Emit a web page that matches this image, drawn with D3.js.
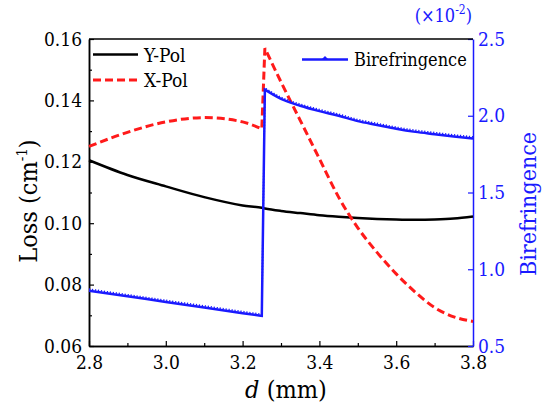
<!DOCTYPE html>
<html>
<head>
<meta charset="utf-8">
<script src="https://cdn.jsdelivr.net/npm/d3@7"></script>
<style>
  body { margin: 0; background: #fff; }
</style>
</head>
<body>
<svg id="chart"></svg>
<script>
// ---- data ----
// before the jump
const dPre = [2.8, 2.9, 3.0, 3.1, 3.2, 3.25];
const yPolPre = [0.1205, 0.1157, 0.1120, 0.1085, 0.1058, 0.1050];
const xPolPre = [0.1250, 0.1296, 0.1330, 0.1344, 0.1330, 0.1307];
const birePre = [0.860, 0.824, 0.787, 0.751, 0.714, 0.696];
// after the jump
const dPost = [3.258, 3.3, 3.35, 3.4, 3.45, 3.5, 3.55, 3.6, 3.65, 3.7, 3.75, 3.8];
const yPolPost = [0.1048, 0.1040, 0.1033, 0.1026, 0.1021, 0.1017, 0.1014, 0.1012, 0.1011, 0.1012, 0.1015, 0.1022];
const xPolPost = [0.157, 0.146, 0.1335, 0.121, 0.1085, 0.0985, 0.0905, 0.0835, 0.0775, 0.0725, 0.0695, 0.068];
const birePost = [2.17, 2.11, 2.065, 2.03, 2.0, 1.965, 1.94, 1.915, 1.895, 1.88, 1.865, 1.852];

const xTicks = [2.8, 3.0, 3.2, 3.4, 3.6, 3.8];
const yTicks = [0.06, 0.08, 0.10, 0.12, 0.14, 0.16];
const y2Ticks = [0.5, 1.0, 1.5, 2.0, 2.5];

const W = 542, H = 409;
const margin = {top: 39, right: 69, bottom: 63, left: 89};
const width = W - margin.left - margin.right;
const height = H - margin.top - margin.bottom;
const FONT = "'DejaVu Serif Condensed', 'DejaVu Serif', serif";

const svg = d3.select('#chart').attr('width', W).attr('height', H);
const g = svg.append('g').attr('transform', `translate(${margin.left},${margin.top})`);

const x = d3.scaleLinear().domain([2.8, 3.8]).range([0, width]);
const y = d3.scaleLinear().domain([0.06, 0.16]).range([height, 0]);
const y2 = d3.scaleLinear().domain([0.5, 2.5]).range([height, 0]);

const BLUE = '#1a1aff';
const RED = '#ff1a1a';

// ---- axes (ticks pointing inward) ----
const xAxis = g.append('g').attr('transform', `translate(0,${height})`)
  .call(d3.axisBottom(x).tickValues(xTicks).tickSizeInner(-5).tickSizeOuter(0).tickFormat(d3.format('.1f')).tickPadding(10));
const xMinor = g.append('g').attr('transform', `translate(0,${height})`)
  .call(d3.axisBottom(x).tickValues([2.9, 3.1, 3.3, 3.5, 3.7]).tickSizeInner(-3).tickSizeOuter(0).tickFormat(''));

const yAxis = g.append('g')
  .call(d3.axisLeft(y).tickValues(yTicks).tickSizeInner(-5).tickSizeOuter(0).tickFormat(d3.format('.2f')).tickPadding(7));
const yMinor = g.append('g')
  .call(d3.axisLeft(y).tickValues([0.07, 0.09, 0.11, 0.13, 0.15]).tickSizeInner(-3).tickSizeOuter(0).tickFormat(''));

const y2Axis = g.append('g').attr('transform', `translate(${width},0)`)
  .call(d3.axisRight(y2).tickValues(y2Ticks).tickSizeInner(-5).tickSizeOuter(0).tickFormat(d3.format('.1f')).tickPadding(5));

[xAxis, xMinor, yAxis, yMinor].forEach(a => {
  a.select('.domain').attr('stroke', '#000').attr('stroke-width', 1.5);
  a.selectAll('.tick line').attr('stroke', '#000').attr('stroke-width', 1.2);
  a.selectAll('.tick text').attr('font-size', 19).attr('fill', '#000');
});
y2Axis.select('.domain').attr('stroke', BLUE).attr('stroke-width', 1.5);
y2Axis.selectAll('.tick line').attr('stroke', BLUE).attr('stroke-width', 1.2);
y2Axis.selectAll('.tick text').attr('font-size', 19).attr('fill', BLUE);

// top frame
g.append('line').attr('x1', 0).attr('x2', width).attr('y1', 0).attr('y2', 0)
  .attr('stroke', '#000').attr('stroke-width', 1.5);

// ---- lines ----
const lineY = d3.line().x(d => x(d[0])).y(d => y(d[1])).curve(d3.curveMonotoneX);
const lineY2 = d3.line().x(d => x(d[0])).y(d => y2(d[1])).curve(d3.curveMonotoneX);

const zip = (a, b) => a.map((v, i) => [v, b[i]]);

// Y-Pol: continuous
const yPolAll = zip(dPre.concat(dPost), yPolPre.concat(yPolPost));
g.append('path').attr('d', lineY(yPolAll))
  .attr('fill', 'none').attr('stroke', '#000').attr('stroke-width', 2.5);

// X-Pol: two smooth pieces joined by the jump
const xPolPath = lineY(zip(dPre, xPolPre)) + 'L' + lineY(zip(dPost, xPolPost)).slice(1);
g.append('path').attr('d', xPolPath)
  .attr('fill', 'none').attr('stroke', RED).attr('stroke-width', 3)
  .attr('stroke-dasharray', '8,4');

// Birefringence
const birePath = lineY2(zip(dPre, birePre)) + 'L' + lineY2(zip(dPost, birePost)).slice(1);
g.append('path').attr('d', birePath)
  .attr('fill', 'none').attr('stroke', BLUE).attr('stroke-width', 2.5);
// dense triangle markers, drawn as a toothed edge on top of the line
g.append('path').attr('d', birePath)
  .attr('transform', 'translate(0,-1.6)')
  .attr('fill', 'none').attr('stroke', BLUE).attr('stroke-width', 1.6)
  .attr('stroke-dasharray', '1.2,1.8');

// ---- legends ----
const leg = svg.append('g');
leg.append('line').attr('x1', 93).attr('x2', 138).attr('y1', 54.5).attr('y2', 54.5)
  .attr('stroke', '#000').attr('stroke-width', 2.5);
leg.append('text').attr('x', 144).attr('y', 61.5).attr('font-size', 19).text('Y-Pol');
leg.append('line').attr('x1', 93).attr('x2', 138).attr('y1', 80).attr('y2', 80)
  .attr('stroke', RED).attr('stroke-width', 3).attr('stroke-dasharray', '8,4');
leg.append('text').attr('x', 144).attr('y', 87).attr('font-size', 19).text('X-Pol');

leg.append('line').attr('x1', 302).attr('x2', 348).attr('y1', 59.5).attr('y2', 59.5)
  .attr('stroke', BLUE).attr('stroke-width', 2.5);
leg.append('path').attr('d', 'M322,59 L325,56 L328,59 Z').attr('fill', BLUE);
leg.append('text').attr('x', 354).attr('y', 66).attr('font-size', 18).text('Birefringence');

// ---- titles ----
const xt = svg.append('text').attr('x', 286).attr('y', 398)
  .attr('text-anchor', 'middle').attr('font-size', 25);
xt.append('tspan').attr('font-style', 'italic').text('d');
xt.append('tspan').text(' (mm)');

const yt = svg.append('text').attr('transform', 'translate(37,201) rotate(-90)')
  .attr('text-anchor', 'middle').attr('font-size', 25);
yt.append('tspan').text('Loss (cm');
yt.append('tspan').attr('font-size', 15).attr('dy', -10).text('-1');
yt.append('tspan').attr('dy', 10).text(')');

svg.append('text').attr('transform', 'translate(536,204) rotate(-90)')
  .attr('text-anchor', 'middle').attr('font-size', 23).attr('fill', BLUE)
  .text('Birefringence');

const sc = svg.append('text').attr('x', 472).attr('y', 22)
  .attr('text-anchor', 'end').attr('font-size', 18).attr('fill', BLUE);
sc.append('tspan').text('(×10');
sc.append('tspan').attr('font-size', 12).attr('dy', -8).text('-2');
sc.append('tspan').attr('dy', 8).text(')');

// serif everywhere, overriding the axis default
svg.selectAll('g').attr('font-family', null);
svg.selectAll('text').attr('font-family', FONT).style('font-family', FONT);
</script>
</body>
</html>
